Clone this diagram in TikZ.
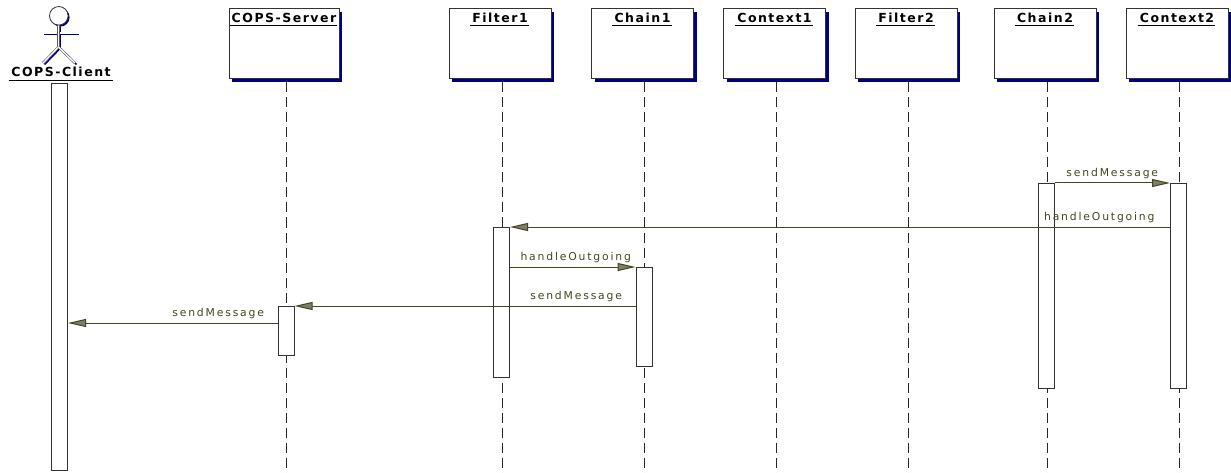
\documentclass[tikz,border=0pt]{standalone}
\usepackage{fontspec}
\setmainfont{DejaVu Sans}
\newfontfamily\msgfont[LetterSpace=17]{DejaVu Sans}
\newfontfamily\ttlfont[LetterSpace=12]{DejaVu Sans}
\usetikzlibrary{arrows.meta,shadows}
\definecolor{navyc}{RGB}{0,0,128}
\definecolor{boxc}{RGB}{50,50,50}
\definecolor{msgc}{RGB}{70,70,30}
\definecolor{arrc}{RGB}{125,125,112}
\begin{document}
\begin{tikzpicture}[x=1pt,y=-1pt,
  objbox/.style={draw=boxc, fill=white, line width=1pt, minimum height=70pt, inner sep=0pt,
    drop shadow={shadow xshift=3pt, shadow yshift=-3pt, fill=navyc, opacity=1}},
  ttl/.style={font=\ttlfont\bfseries\fontsize{12.5}{14}\selectfont, text=black, inner sep=0pt, anchor=base},
  ul/.style={line width=0.9pt, black},
  lifeline/.style={draw=black!85, line width=1pt, dash pattern=on 10pt off 5pt},
  actbar/.style={draw=boxc, fill=white, line width=1pt, minimum width=16pt, inner sep=0pt, anchor=north},
  msg/.style={draw=msgc, line width=1pt, -{Triangle[length=18pt,width=8pt,fill=arrc]}},
  lbl/.style={font=\msgfont\fontsize{10.8}{12}\selectfont, text=msgc, inner sep=0pt},
  actor/.style={draw=boxc!80, double=white, double distance=1.3pt, line width=0.6pt},
  actorsh/.style={draw=navyc, line width=1.6pt}
]
\useasboundingbox (0,0) rectangle (1231,473);
\fill[white] (0,0) rectangle (1231,473);

% objects
\foreach \n/\x/\w/\l in {srv/284/110/COPS-Server, fa/500/102/Filter1, cha/642.5/102/Chain1,
  cxa/774.5/102/Context1, fb/906/102/Filter2, chb/1045/102/Chain2, cxb/1177/102/Context2}{
  \node[objbox, minimum width=\w pt] (\n) at (\x,44) {};
  \node[ttl] (\n t) at (\x,23) {\l};
  \draw[ul] ([yshift=-2.5pt,xshift=-2pt]\n t.base west) -- ([yshift=-2.5pt,xshift=1pt]\n t.base east);
  \coordinate (\n end) at (\x+2,473);
  \draw[lifeline] ([xshift=2pt,yshift=-3pt]\n.south) -- (\n end);
}

% actor
\begin{scope}[shift={(1.5,1.5)}]
  \draw[actorsh] (42,33) -- (77,33);
  \draw[actorsh] (58.5,25) -- (58.5,47) -- (43,63);
  \draw[actorsh] (58.5,47) -- (75,63);
  \fill[navyc] (58.8,15.8) circle (9.3);
\end{scope}
\draw[actor] (42,33) -- (77,33);
\draw[actor] (58.5,25) -- (58.5,47);
\draw[actor] (58.5,47) -- (43,63);
\draw[actor] (58.5,47) -- (75,63);
\draw[draw=boxc, fill=white, line width=0.8pt] (58.8,15.8) circle (9.3);
\node[ttl] (clt) at (61,77) {COPS-Client};
\draw[ul] (9,80) -- (113,80);

% activation bars
\node[actbar, minimum height=387pt] (clbar) at (59.5,83) {};
\node[actbar, minimum height=49pt] (srvact) at (286,306) {};
\node[actbar, minimum height=150pt] (faact) at (501.5,227) {};
\node[actbar, minimum height=99pt] (chaact) at (644,267) {};
\node[actbar, minimum height=205pt] (chbact) at (1046,183) {};
\node[actbar, minimum height=205pt] (cxbact) at (1178.5,183) {};

% messages
\draw[msg] (chbact.north east) -- node[lbl, midway, anchor=base, yshift=6pt] {sendMessage} (cxbact.north west);
\draw[msg] (cxbact.west |- faact.north) -- node[lbl, pos=0, anchor=base east, xshift=-15pt, yshift=7pt] {handleOutgoing} (faact.north east);
\draw[msg] (faact.east |- chaact.north) -- node[lbl, midway, anchor=base, xshift=3pt, yshift=7pt] {handleOutgoing} (chaact.north west);
\draw[msg] (chaact.west |- srvact.north) -- node[lbl, pos=0, anchor=base east, xshift=-13pt, yshift=7pt] {sendMessage} (srvact.north east);
\coordinate (m5) at (0,323);
\draw[msg] (srvact.west |- m5) -- node[lbl, pos=0, anchor=base east, xshift=-13pt, yshift=7pt] {sendMessage} (clbar.east |- m5);
\end{tikzpicture}
\end{document}
